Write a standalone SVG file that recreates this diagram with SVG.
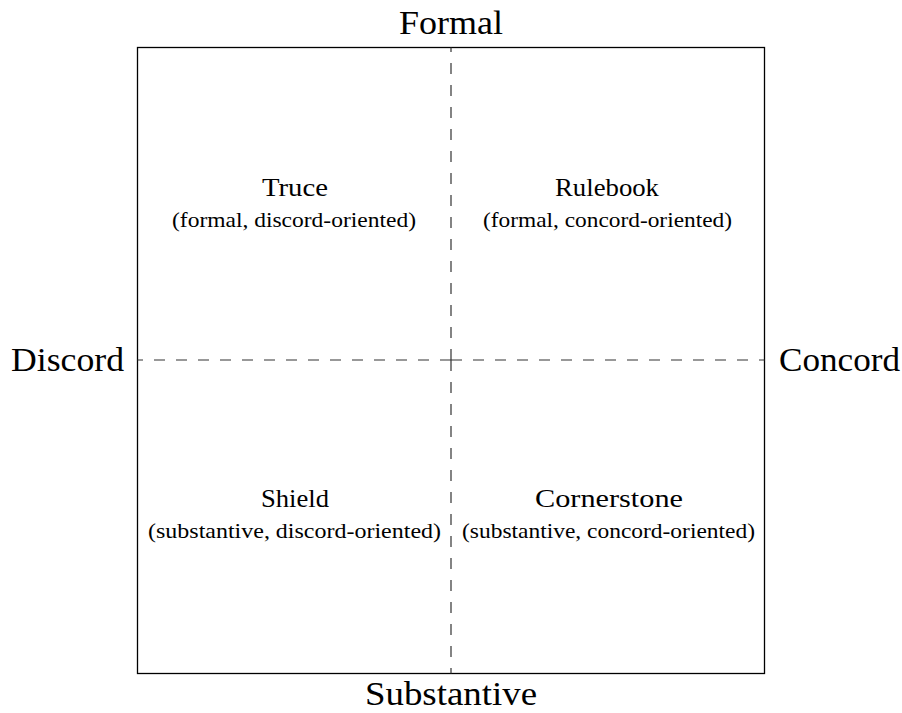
<svg xmlns="http://www.w3.org/2000/svg" width="902" height="713" viewBox="0 0 902 713">
<style>
.axis{font-family:"Liberation Serif","Times New Roman",serif;font-size:33px;fill:#000;text-anchor:middle}
.title{font-family:"Liberation Serif","Times New Roman",serif;font-size:26px;fill:#000;text-anchor:middle}
.sub{font-family:"Liberation Serif","Times New Roman",serif;font-size:21px;fill:#000;text-anchor:middle}
.dash{stroke:#333;stroke-width:1.2;stroke-dasharray:11 11;fill:none}
</style>
<rect width="902" height="713" fill="#fff"/>
<g id="frame"><rect x="137.5" y="47.5" width="627" height="626" fill="none" stroke="#000" stroke-width="1.3"/></g>
<g id="connectors">
<line class="dash" x1="451" y1="360" x2="451" y2="47.5"/>
<line class="dash" x1="451" y1="360" x2="451" y2="673.5"/>
<line class="dash" x1="451" y1="360" x2="137.5" y2="360"/>
<line class="dash" x1="451" y1="360" x2="764.5" y2="360"/>
</g>
<g id="axis-formal"><text class="axis" x="451" y="34" textLength="104" lengthAdjust="spacingAndGlyphs">Formal</text></g>
<g id="axis-substantive"><text class="axis" x="451" y="705" textLength="172" lengthAdjust="spacingAndGlyphs">Substantive</text></g>
<g id="axis-discord"><text class="axis" x="67.5" y="371" textLength="113" lengthAdjust="spacingAndGlyphs">Discord</text></g>
<g id="axis-concord"><text class="axis" x="839.5" y="371" textLength="121" lengthAdjust="spacingAndGlyphs">Concord</text></g>
<g id="truce">
<text class="title" x="295" y="196" textLength="66" lengthAdjust="spacingAndGlyphs">Truce</text>
<text class="sub" x="294" y="227" textLength="244" lengthAdjust="spacingAndGlyphs">(formal, discord-oriented)</text>
</g>
<g id="rulebook">
<text class="title" x="607" y="196" textLength="104" lengthAdjust="spacingAndGlyphs">Rulebook</text>
<text class="sub" x="607.5" y="227" textLength="249" lengthAdjust="spacingAndGlyphs">(formal, concord-oriented)</text>
</g>
<g id="shield">
<text class="title" x="295" y="507" textLength="68" lengthAdjust="spacingAndGlyphs">Shield</text>
<text class="sub" x="294.5" y="538" textLength="293" lengthAdjust="spacingAndGlyphs">(substantive, discord-oriented)</text>
</g>
<g id="cornerstone">
<text class="title" x="609" y="507" textLength="148" lengthAdjust="spacingAndGlyphs">Cornerstone</text>
<text class="sub" x="608.5" y="538" textLength="293" lengthAdjust="spacingAndGlyphs">(substantive, concord-oriented)</text>
</g>
</svg>
